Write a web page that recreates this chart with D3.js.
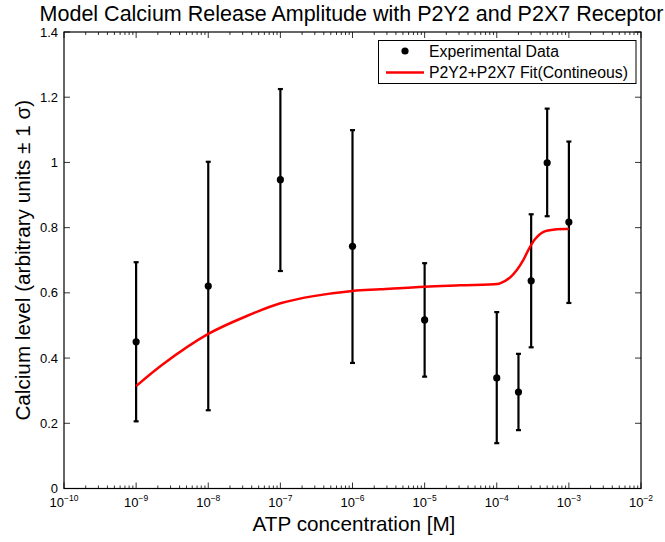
<!DOCTYPE html>
<html><head><meta charset="utf-8">
<script src="https://cdn.jsdelivr.net/npm/d3@7"></script>
<style>body{margin:0;background:#fff}svg{display:block}text{font-family:"Liberation Sans",Arial,sans-serif}</style>
</head><body>
<svg id="c" width="665" height="542"></svg>
<script>
// Experimental data
const atpConc = [1e-9, 1e-8, 1e-7, 1e-6, 1e-5, 1e-4, 2e-4, 3e-4, 5e-4, 1e-3];
const calcium = [0.450, 0.621, 0.947, 0.743, 0.517, 0.339, 0.296, 0.637, 0.999, 0.817];
const errLow  = [0.206, 0.240, 0.667, 0.385, 0.343, 0.139, 0.179, 0.433, 0.835, 0.569];
const errHigh = [0.694, 1.002, 1.225, 1.099, 0.691, 0.541, 0.413, 0.841, 1.165, 1.064];
// Fit curve
const fitConc = [1e-9, 2.38e-9, 1e-8, 3.42e-8, 1e-7, 2.87e-7, 1e-6, 2.42e-6, 1e-5, 3.16e-5, 1e-4, 1.11e-4, 1.53e-4, 1.9e-4, 2.34e-4, 2.75e-4, 3.41e-4, 4.45e-4, 6.81e-4, 1e-3];
const fitVal  = [0.314, 0.382, 0.474, 0.529, 0.568, 0.590, 0.606, 0.611, 0.619, 0.623, 0.627, 0.629, 0.647, 0.670, 0.701, 0.732, 0.765, 0.787, 0.795, 0.796];
const yTicks = [0, 0.2, 0.4, 0.6, 0.8, 1, 1.2, 1.4];
const yTickLabels = ["0", "0.2", "0.4", "0.6", "0.8", "1", "1.2", "1.4"];
const xExponents = [-10, -9, -8, -7, -6, -5, -4, -3, -2];

const svg = d3.select("#c");
const L = 64, R = 641, T = 32, B = 488.5;
const x = d3.scaleLog().domain([1e-10, 1e-2]).range([L, R]);
const y = d3.scaleLinear().domain([0, 1.4]).range([B, T]);

// minor ticks
const minor = [];
for (let e = -10; e < -2; e++) for (let m = 2; m <= 9; m++) minor.push(m * Math.pow(10, e));
const g = svg.append("g");
minor.forEach(v => {
  g.append("line").attr("x1", x(v)).attr("x2", x(v)).attr("y1", B).attr("y2", B - 3).attr("stroke", "#000").attr("stroke-width", 0.8);
  g.append("line").attr("x1", x(v)).attr("x2", x(v)).attr("y1", T).attr("y2", T + 3).attr("stroke", "#000").attr("stroke-width", 0.8);
});
xExponents.forEach(e => {
  const v = Math.pow(10, e);
  g.append("line").attr("x1", x(v)).attr("x2", x(v)).attr("y1", B).attr("y2", B - 6).attr("stroke", "#000").attr("stroke-width", 0.8);
  g.append("line").attr("x1", x(v)).attr("x2", x(v)).attr("y1", T).attr("y2", T + 6).attr("stroke", "#000").attr("stroke-width", 0.8);
  const t = g.append("text").attr("x", x(v)).attr("y", 507).attr("text-anchor", "middle").attr("font-size", 13);
  t.append("tspan").text("10");
  t.append("tspan").attr("dy", -6).attr("font-size", 8.5).text("\u2212" + Math.abs(e));
});
yTicks.forEach((v, i) => {
  g.append("line").attr("x1", L).attr("x2", L + 6).attr("y1", y(v)).attr("y2", y(v)).attr("stroke", "#000").attr("stroke-width", 0.8);
  g.append("line").attr("x1", R).attr("x2", R - 6).attr("y1", y(v)).attr("y2", y(v)).attr("stroke", "#000").attr("stroke-width", 0.8);
  g.append("text").attr("x", L - 6).attr("y", y(v) + 4.5).attr("text-anchor", "end").attr("font-size", 13).text(yTickLabels[i]);
});
svg.append("rect").attr("x", L).attr("y", T).attr("width", R - L).attr("height", B - T).attr("fill", "none").attr("stroke", "#000").attr("stroke-width", 1.2);

// error bars
const eb = svg.append("g").attr("stroke", "#000").attr("stroke-width", 2.2);
atpConc.forEach((c, i) => {
  const cx = x(c);
  eb.append("line").attr("x1", cx).attr("x2", cx).attr("y1", y(errLow[i])).attr("y2", y(errHigh[i]));
  eb.append("line").attr("x1", cx - 2.5).attr("x2", cx + 2.5).attr("y1", y(errLow[i])).attr("y2", y(errLow[i]));
  eb.append("line").attr("x1", cx - 2.5).attr("x2", cx + 2.5).attr("y1", y(errHigh[i])).attr("y2", y(errHigh[i]));
});
// fit line
const line = d3.line().x(d => x(d[0])).y(d => y(d[1])).curve(d3.curveCatmullRom.alpha(0.5));
svg.append("path").datum(fitConc.map((c, i) => [c, fitVal[i]])).attr("d", line)
  .attr("fill", "none").attr("stroke", "#ff0000").attr("stroke-width", 2.5);
// points
svg.append("g").selectAll("circle").data(atpConc).join("circle")
  .attr("cx", d => x(d)).attr("cy", (d, i) => y(calcium[i])).attr("r", 3.6).attr("fill", "#000");

// legend
const lg = svg.append("g");
lg.append("rect").attr("x", 378.5).attr("y", 40.5).attr("width", 257.5).attr("height", 43).attr("fill", "#fff").attr("stroke", "#000").attr("stroke-width", 1);
lg.append("circle").attr("cx", 405).attr("cy", 51).attr("r", 3.6).attr("fill", "#000");
lg.append("text").attr("x", 429).attr("y", 56.5).attr("font-size", 15.8).text("Experimental Data");
lg.append("line").attr("x1", 386).attr("x2", 424).attr("y1", 72.5).attr("y2", 72.5).attr("stroke", "#ff0000").attr("stroke-width", 2.5);
lg.append("text").attr("x", 429).attr("y", 78).attr("font-size", 15.8).text("P2Y2+P2X7 Fit(Contineous)");

// titles
svg.append("text").attr("x", 351.5).attr("y", 21).attr("text-anchor", "middle").attr("font-size", 21.5)
  .text("Model Calcium Release Amplitude with P2Y2 and P2X7 Receptor");
svg.append("text").attr("x", 354).attr("y", 531).attr("text-anchor", "middle").attr("font-size", 20.7)
  .text("ATP concentration [M]");
svg.append("text").attr("transform", `translate(30,${(T + B) / 2}) rotate(-90)`).attr("text-anchor", "middle").attr("font-size", 20.7)
  .text("Calcium level (arbitrary units \u00b1 1 \u03c3)");
</script>
</body></html>
